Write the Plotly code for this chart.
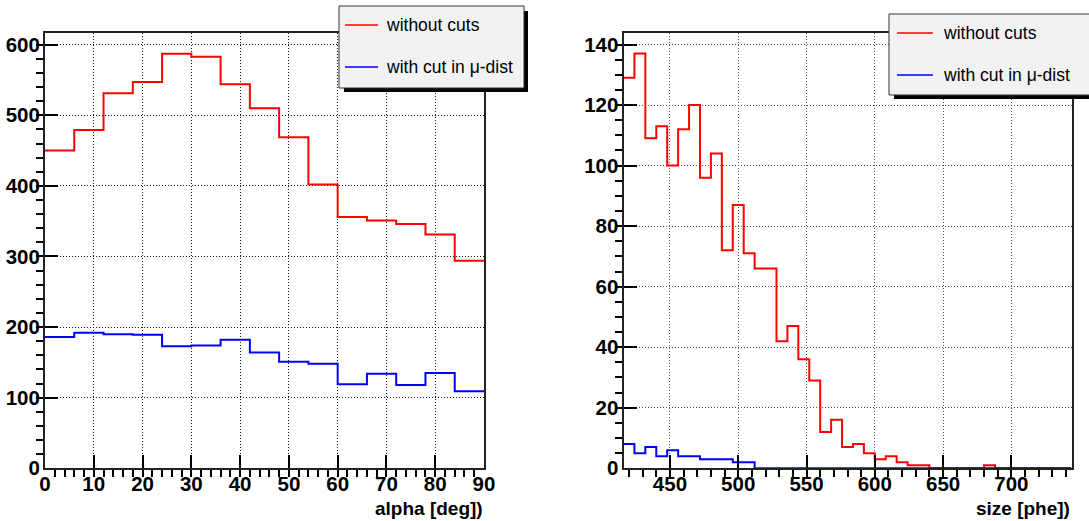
import numpy as np
import plotly.graph_objects as go

# ---- alpha distribution (15 bins of 6 deg from 0 to 90) ----
alpha_lo, alpha_width = 0, 6
alpha_no_cuts = [450, 479, 531, 547, 587, 583, 544, 510, 469, 402, 356, 351, 346, 331, 294]
alpha_mu_cut = [186, 192, 190, 189, 173, 174, 182, 164, 151, 148, 119, 134, 118, 135, 109]

# ---- size distribution (41 bins of 8 phe from 416 to 744) ----
size_lo, size_width = 416, 8
size_no_cuts = [129, 137, 109, 113, 100, 112, 120, 96, 104, 72, 87, 71, 66, 66, 42, 47,
                36, 29, 12, 16, 7, 8, 5, 3, 4, 2, 1, 1, 0, 0, 0, 0, 0, 1, 0, 0, 0, 0, 0, 0, 0]
size_mu_cut = [8, 5, 7, 4, 6, 4, 4, 3, 3, 3, 2, 2, 0, 0, 0, 0, 0, 0, 0, 0, 0, 0, 0, 0, 0,
               0, 0, 0, 0, 0, 0, 0, 0, 0, 0, 0, 0, 0, 0, 0, 0]

legend_labels = ["without cuts", "with cut in \u03bc-dist"]
colors = ["#ff0000", "#0000ff"]

W, H = 1089, 521
FONT = "Liberation Sans, Arial, Helvetica, sans-serif"


def step_xy(lo, width, values):
    edges = lo + width * np.arange(len(values) + 1)
    return edges, list(values) + [values[-1]]


fig = go.Figure()

for xa, ya, lo, width, series in [
    ("x", "y", alpha_lo, alpha_width, [alpha_no_cuts, alpha_mu_cut]),
    ("x2", "y2", size_lo, size_width, [size_no_cuts, size_mu_cut]),
]:
    for vals, col in zip(series, colors):
        ex, ey = step_xy(lo, width, vals)
        fig.add_trace(go.Scatter(x=ex, y=ey, mode="lines", line=dict(color=col, width=2, shape="hv"),
                                 xaxis=xa, yaxis=ya, showlegend=False, hoverinfo="skip"))


def px(x):
    return x / W


def py(y):
    return 1 - y / H


tick_font = dict(family=FONT, size=20.5, color="black", weight="bold")
common = dict(showline=True, mirror=True, linecolor="#222", linewidth=2, automargin=False,
              ticks="inside", ticklen=13, tickwidth=1.5, tickcolor="black",
              showgrid=True, griddash="1px,2px", gridwidth=1, zeroline=False,
              tickfont=tick_font)
x_common = dict(common, ticklabelstandoff=-4)
y_common = dict(common, ticklabelstandoff=-1)

y_dom = [py(468.3), py(33)]

fig.update_layout(
    template="none",
    width=W, height=H,
    margin=dict(l=0, r=0, t=0, b=0),
    paper_bgcolor="white", plot_bgcolor="white",
    showlegend=False,
    xaxis=dict(domain=[px(45), px(484)], range=[0, 90], dtick=10, tick0=0,
               gridcolor="#111", anchor="y",
               minor=dict(dtick=2, ticklen=7, tickcolor="black", showgrid=False), **x_common),
    yaxis=dict(domain=y_dom, range=[0, 616.5], dtick=100, tick0=0,
               gridcolor="#111", anchor="x",
               minor=dict(dtick=20, ticklen=7, tickcolor="black", showgrid=False), **y_common),
    xaxis2=dict(domain=[px(623.5), px(1071.5)], range=[size_lo, size_lo + size_width * len(size_no_cuts)],
                dtick=50, tick0=0, gridcolor="#555", anchor="y2",
                minor=dict(dtick=10, ticklen=7, tickcolor="black", showgrid=False), **x_common),
    yaxis2=dict(domain=y_dom, range=[0, 143.8], dtick=20, tick0=0,
                gridcolor="#555", anchor="x2",
                minor=dict(dtick=5, ticklen=7, tickcolor="black", showgrid=False), **y_common),
)

# axis titles
title_font = dict(family=FONT, size=19, color="black", weight="bold")
fig.add_annotation(text="alpha [deg])", xref="paper", yref="paper", x=px(485), y=py(508),
                   xanchor="right", yanchor="middle", showarrow=False, font=title_font)
fig.add_annotation(text="size [phe])", xref="paper", yref="paper", x=px(1072), y=py(508),
                   xanchor="right", yanchor="middle", showarrow=False, font=title_font)

# legend boxes with drop shadow
legend_font = dict(family=FONT, size=17.5, color="black")
for (x0, y0, x1, y1, line_x0, line_x1, text_x, rows) in [
    (339, 6, 524, 88, 345, 378, 384, (25, 67)),
    (889, 14, 1095, 95, 897, 933, 941, (33, 75)),
]:
    fig.add_shape(type="rect", xref="paper", yref="paper",
                  x0=px(x0 + 5), x1=px(x1 + 4), y0=py(y0 + 5), y1=py(y1 + 4),
                  fillcolor="black", line=dict(width=0), layer="above")
    fig.add_shape(type="rect", xref="paper", yref="paper",
                  x0=px(x0), x1=px(x1), y0=py(y0), y1=py(y1),
                  fillcolor="#f2f2f2", line=dict(color="#333", width=1), layer="above")
    for row_y, col, label in zip(rows, colors, legend_labels):
        fig.add_shape(type="line", xref="paper", yref="paper",
                      x0=px(line_x0), x1=px(line_x1), y0=py(row_y), y1=py(row_y),
                      line=dict(color=col, width=1.5), layer="above")
        fig.add_annotation(text=label, xref="paper", yref="paper", x=px(text_x), y=py(row_y),
                           xanchor="left", yanchor="middle", showarrow=False, font=legend_font)

fig.write_html("out.html")
